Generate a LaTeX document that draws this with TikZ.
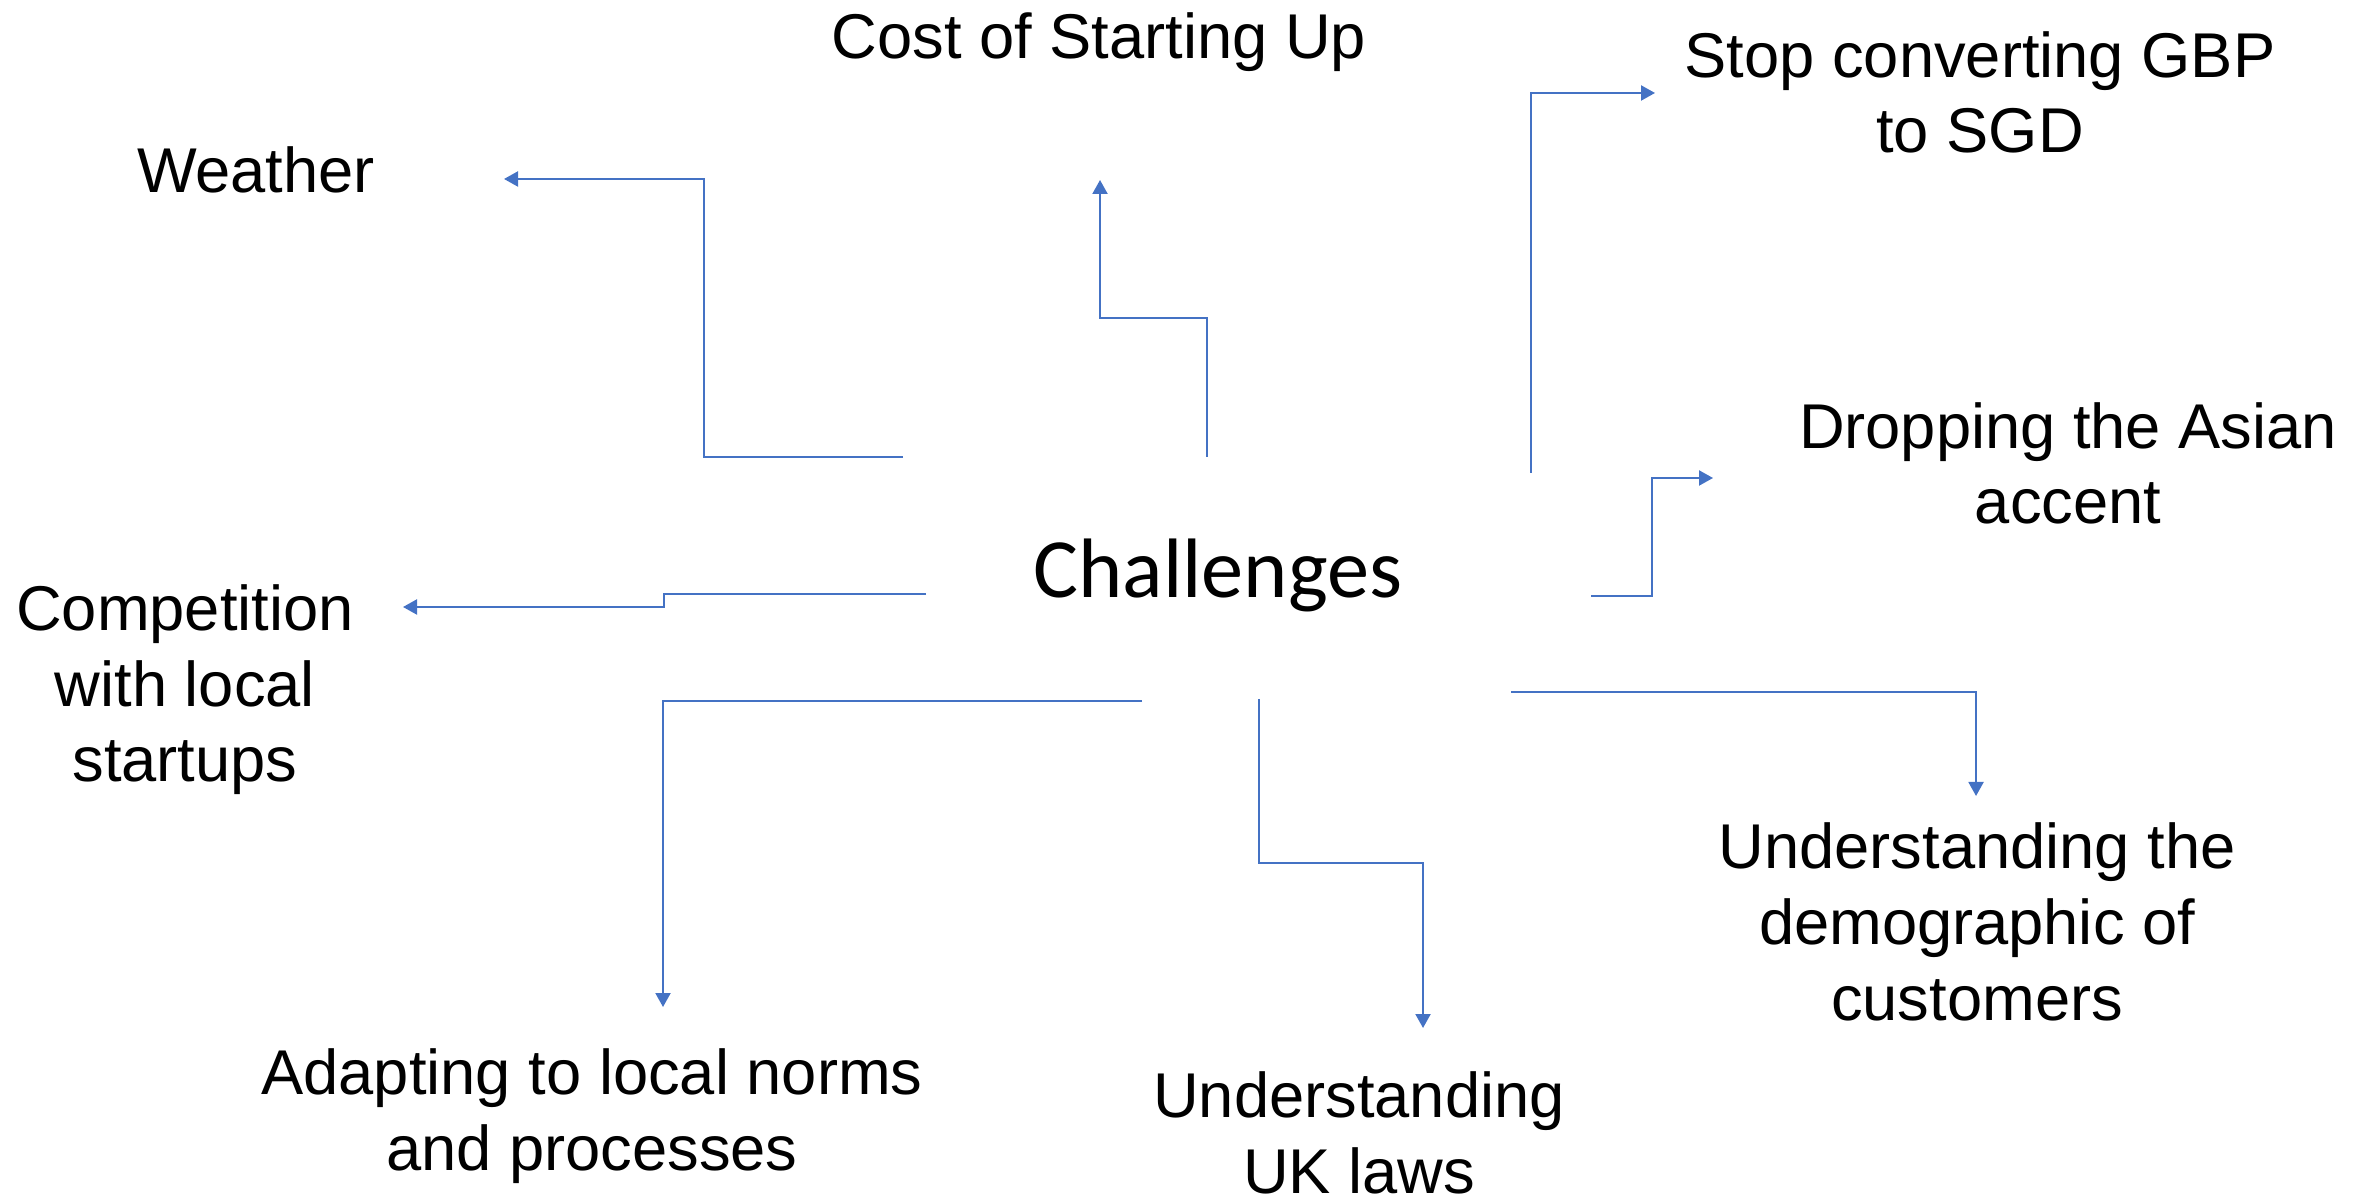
\documentclass[tikz,border=0pt]{standalone}
\usepackage{fontspec}
\setmainfont{Liberation Sans}
\newfontfamily\hubfont{Carlito}
\usetikzlibrary{arrows.meta}

\definecolor{linkblue}{HTML}{4472C4}

\tikzset{
  issue/.style={font=\fontsize{18}{21.5}\selectfont, align=center, inner sep=0pt, anchor=base},
  hub/.style={font=\hubfont\fontsize{24}{28}\selectfont, inner sep=0pt, anchor=base},
  link/.style={draw=linkblue, line width=0.6pt, -{Triangle[length=1.4mm, width=1.5mm]}}
}

\begin{document}
\begin{tikzpicture}[x=0.1mm, y=-0.1mm]
    \useasboundingbox (0,0) rectangle (2369,1201);

    % Centre word
    \node[hub] (hub) at (1218,598) {Challenges};

    % Challenges around it (placed by the baseline of their last line)
    \node[issue] (weather) at (256,193) {Weather};
    \node[issue] (cost) at (1099,59) {Cost of Starting Up};
    \node[issue] (gbp) at (1980,153) {Stop converting GBP\\to SGD};
    \node[issue] (accent) at (2068,524) {Dropping the Asian\\accent};
    \node[issue] (rivals) at (185,782) {Competition\\with local\\startups};
    \node[issue] (norms) at (592,1170) {Adapting to local norms\\and processes};
    \node[issue] (laws) at (1359,1193) {Understanding\\UK laws};
    \node[issue] (market) at (1977,1020) {Understanding the\\demographic of\\customers};

    % Loose ends of the elbow connectors
    \coordinate (weather-from) at (903,457);
    \coordinate (weather-to) at (504,179);
    \coordinate (cost-from) at (1207,457);
    \coordinate (cost-to) at (1100,180);
    \coordinate (gbp-from) at (1531,473);
    \coordinate (gbp-to) at (1655,93);
    \coordinate (accent-from) at (1591,596);
    \coordinate (accent-to) at (1713,478);
    \coordinate (rivals-from) at (926,594);
    \coordinate (rivals-to) at (403,607);
    \coordinate (norms-from) at (1142,701);
    \coordinate (norms-to) at (663,1007);
    \coordinate (laws-from) at (1259,699);
    \coordinate (laws-to) at (1423,1028);
    \coordinate (market-from) at (1511,692);
    \coordinate (market-to) at (1976,796);

    % Connectors
    \draw[link] (weather-from) -| (704,179) -- (weather-to);
    \draw[link] (cost-from) |- (1100,318) -- (cost-to);
    \draw[link] (gbp-from) |- (gbp-to);
    \draw[link] (accent-from) -| (1652,478) -- (accent-to);
    \draw[link] (rivals-from) -| (664,607) -- (rivals-to);
    \draw[link] (norms-from) -| (norms-to);
    \draw[link] (laws-from) |- (1423,863) -- (laws-to);
    \draw[link] (market-from) -| (market-to);
\end{tikzpicture}
\end{document}
